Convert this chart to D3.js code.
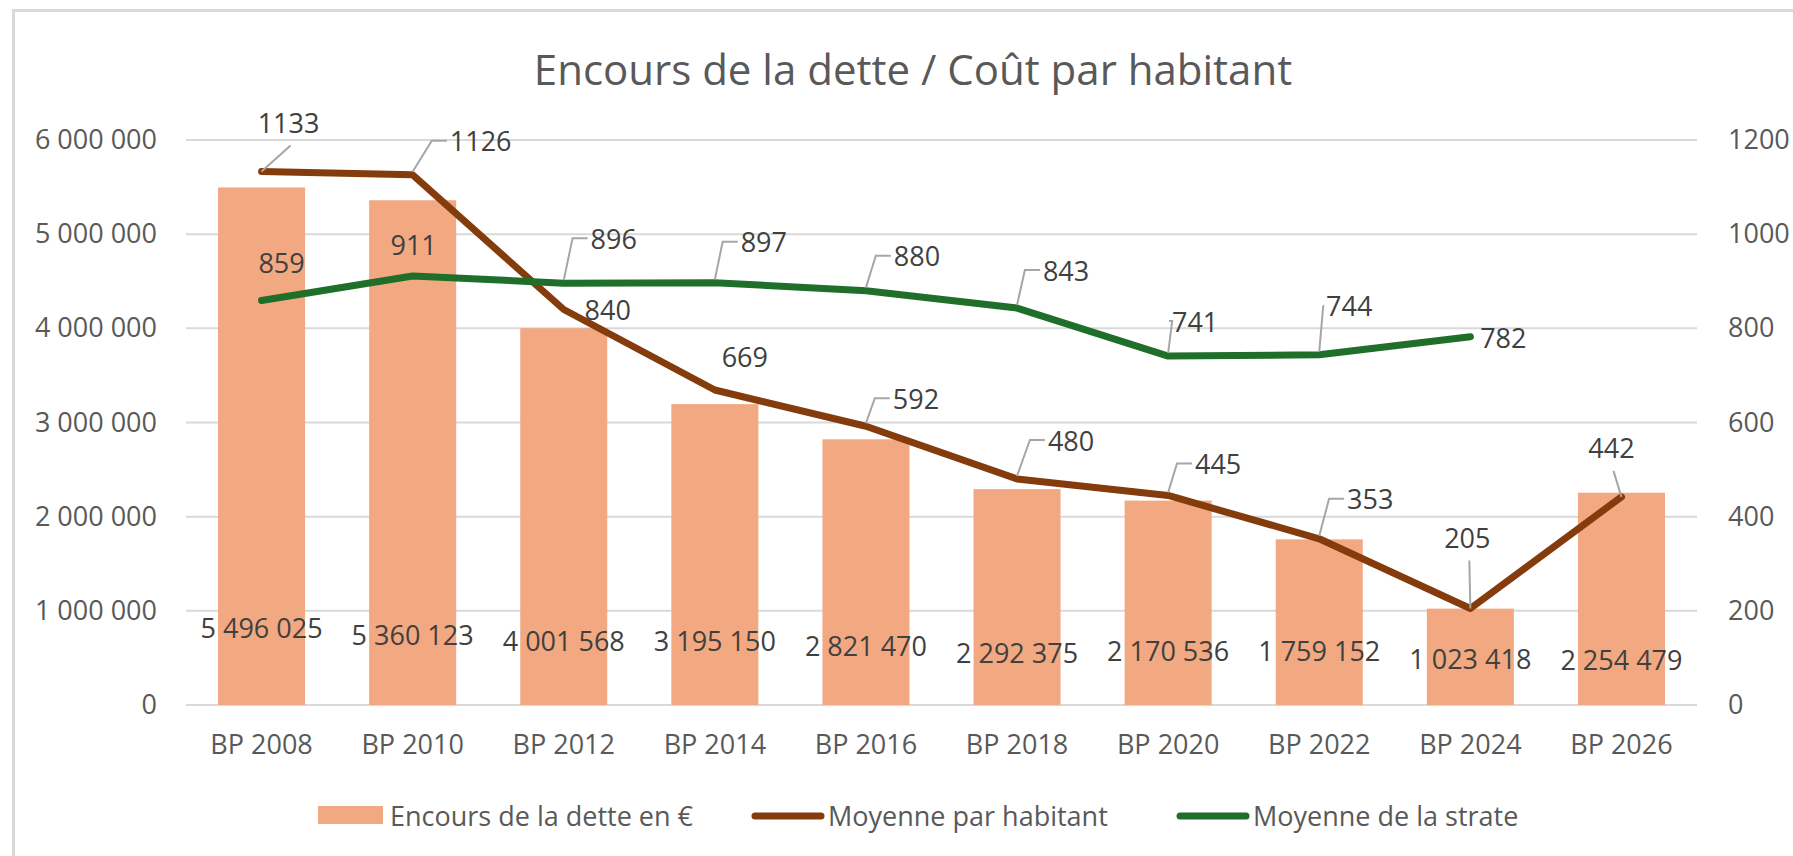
<!DOCTYPE html>
<html><head><meta charset="utf-8">
<script src="https://cdn.jsdelivr.net/npm/d3@7"></script>
<style>
html,body{margin:0;padding:0;background:#fff;}
svg{display:block;font-family:"Open Sans",sans-serif;}
</style>
</head><body>
<svg id="chart" width="1793" height="856"></svg>
<script>
// ---------- DATA ----------
const categories = ["BP 2008","BP 2010","BP 2012","BP 2014","BP 2016","BP 2018","BP 2020","BP 2022","BP 2024","BP 2026"];
const encours = [5496025, 5360123, 4001568, 3195150, 2821470, 2292375, 2170536, 1759152, 1023418, 2254479];
const parHabitant = [1133, 1126, 840, 669, 592, 480, 445, 353, 205, 442];
const strate = [859, 911, 896, 897, 880, 843, 741, 744, 782];
const leftTicks = [0, 1000000, 2000000, 3000000, 4000000, 5000000, 6000000];
const rightTicks = [0, 200, 400, 600, 800, 1000, 1200];
const title = "Encours de la dette / Coût par habitant";
const seriesNames = ["Encours de la dette en €", "Moyenne par habitant", "Moyenne de la strate"];

// ---------- LAYOUT (label placement: dx, dy from point, leader type) ----------
const barLabelDy = [-78, -71, -65, -65, -60, -53, -55, -55, -47, -46];
const habLabelPos = [[27,-49,2],[68,-34,1],[44,0,0],[30,-34,0],[50,-28,1],[54,-39,1],[50,-32,1],[51,-40,1],[-3,-71,2],[-10,-49,2]];
const strLabelPos = [[20,-38,0],[1,-32,0],[50,-45,1],[49,-41,1],[51,-35,1],[49,-38,1],[27,-35,1],[30,-49,1],[33,1,0]];

const colors = {bar:"#f2a982", hab:"#843c0c", str:"#1f6e2a", grid:"#d9d9d9", tick:"#595959", label:"#404040", leader:"#a6a6a6"};

const svg = d3.select("#chart");
const W = 1793, H = 856;
const plot = {left:186, right:1697, top:140, bottom:705};

const fr = d3.formatLocale({decimal:",", thousands:" ", grouping:[3], currency:["","€"]});
const fmt = fr.format(",d");

// frame
svg.append("rect").attr("x",13.5).attr("y",10.5).attr("width",W+20).attr("height",H+20)
  .attr("fill","#fff").attr("stroke",colors.grid).attr("stroke-width",3);

const x = d3.scaleBand().domain(categories).range([plot.left, plot.right]).paddingInner(0.424).paddingOuter(0.212);
const yL = d3.scaleLinear().domain([0, 6000000]).range([plot.bottom, plot.top]);
const yR = d3.scaleLinear().domain([0, 1200]).range([plot.bottom, plot.top]);
const cx = c => x(c) + x.bandwidth()/2;

// title
svg.append("text").attr("x", 913).attr("y", 68).attr("text-anchor","middle")
  .attr("dominant-baseline","central").attr("font-size",42).attr("fill",colors.tick).text(title);

// gridlines
svg.append("g").selectAll("line").data(leftTicks).join("line")
  .attr("x1",plot.left).attr("x2",plot.right)
  .attr("y1",d=>yL(d)).attr("y2",d=>yL(d))
  .attr("stroke",colors.grid).attr("stroke-width",2);

// left axis
const gL = svg.append("g").attr("transform",`translate(${plot.left},0)`)
  .call(d3.axisLeft(yL).tickValues(leftTicks).tickFormat(fmt).tickSize(0).tickPadding(29));
gL.select(".domain").remove();
gL.selectAll("text").attr("font-size",27).attr("fill",colors.tick).attr("font-family","Open Sans");

// right axis
const gR = svg.append("g").attr("transform",`translate(${plot.right},0)`)
  .call(d3.axisRight(yR).tickValues(rightTicks).tickFormat(d3.format("d")).tickSize(0).tickPadding(31));
gR.select(".domain").remove();
gR.selectAll("text").attr("font-size",27).attr("fill",colors.tick).attr("font-family","Open Sans");

// bottom axis
const gB = svg.append("g").attr("transform",`translate(0,${plot.bottom})`)
  .call(d3.axisBottom(x).tickSize(0).tickPadding(30));
gB.select(".domain").remove();
gB.selectAll("text").attr("font-size",27).attr("fill",colors.tick).attr("font-family","Open Sans");

// bars
svg.append("g").selectAll("rect").data(encours).join("rect")
  .attr("x",(d,i)=>x(categories[i])).attr("width",x.bandwidth())
  .attr("y",d=>yL(d)).attr("height",d=>yL(0)-yL(d))
  .attr("fill",colors.bar);

// lines
const lineGen = d3.line().x((d,i)=>cx(categories[i])).y(d=>yR(d));
svg.append("path").datum(parHabitant).attr("d",lineGen).attr("fill","none")
  .attr("stroke",colors.hab).attr("stroke-width",7).attr("stroke-linecap","round").attr("stroke-linejoin","round");
svg.append("path").datum(strate).attr("d",lineGen).attr("fill","none")
  .attr("stroke",colors.str).attr("stroke-width",7).attr("stroke-linecap","round").attr("stroke-linejoin","round");

// bar labels
svg.append("g").selectAll("text").data(encours).join("text")
  .attr("x",(d,i)=>cx(categories[i])).attr("y",(d,i)=>yL(0)+barLabelDy[i])
  .attr("text-anchor","middle").attr("dominant-baseline","central")
  .attr("font-size",27).attr("fill",colors.label).text(d=>fmt(d));

// point labels with leader lines
function pointLabels(values, pos){
  const g = svg.append("g");
  values.forEach((v,i)=>{
    const px = cx(categories[i]), py = yR(v);
    const [dx,dy,type] = pos[i];
    const lx = px+dx, ly = py+dy;
    const t = g.append("text").attr("x",lx).attr("y",ly).attr("text-anchor","middle")
      .attr("dominant-baseline","central").attr("font-size",27).attr("fill",colors.label).text(v);
    const w = t.node().getComputedTextLength();
    if(type===1){
      const left = lx - w/2;
      const cxr = Math.max(px+4, left-18);
      g.append("path").attr("d",`M${px},${py-3}L${cxr},${ly}L${left-3},${ly}`)
        .attr("fill","none").attr("stroke",colors.leader).attr("stroke-width",2);
    } else if(type===2){
      g.append("path").attr("d",`M${px},${py}L${lx+2},${ly+23}`)
        .attr("fill","none").attr("stroke",colors.leader).attr("stroke-width",2);
    }
  });
}
pointLabels(parHabitant, habLabelPos);
pointLabels(strate, strLabelPos);

// legend
const leg = svg.append("g");
leg.append("rect").attr("x",318).attr("y",806).attr("width",65).attr("height",18).attr("fill",colors.bar);
leg.append("text").attr("x",390).attr("y",815).attr("dominant-baseline","central").attr("font-size",27).attr("fill",colors.tick).text(seriesNames[0]);
leg.append("line").attr("x1",755).attr("x2",821).attr("y1",816).attr("y2",816).attr("stroke",colors.hab).attr("stroke-width",7).attr("stroke-linecap","round");
leg.append("text").attr("x",828).attr("y",815).attr("dominant-baseline","central").attr("font-size",27).attr("fill",colors.tick).text(seriesNames[1]);
leg.append("line").attr("x1",1180).attr("x2",1246).attr("y1",816).attr("y2",816).attr("stroke",colors.str).attr("stroke-width",7).attr("stroke-linecap","round");
leg.append("text").attr("x",1253).attr("y",815).attr("dominant-baseline","central").attr("font-size",27).attr("fill",colors.tick).text(seriesNames[2]);
</script>
</body></html>
